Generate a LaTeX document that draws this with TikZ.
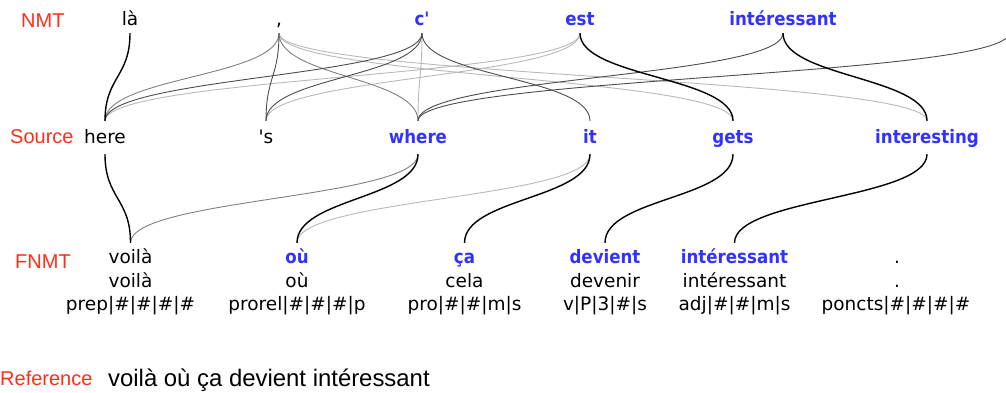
\documentclass[tikz,border=0pt]{standalone}
\usepackage{fontspec}
\setmainfont{DejaVu Sans}
\newfontfamily\labelfont{Liberation Sans}
\newfontfamily\boldcond{DejaVu Sans Condensed Bold}
\definecolor{lblred}{RGB}{255,45,25}
\definecolor{wordblue}{RGB}{50,50,255}

\tikzset{
  every node/.style={inner sep=0pt, anchor=base},
  word/.style={font=\fontsize{18.5}{22}\selectfont},
  hi/.style={font=\boldcond\fontsize{18.5}{22}\selectfont, text=wordblue},
  nmt/.style={text depth=8pt},
  src/.style={text height=22pt, text depth=11pt},
  fn/.style={text height=20pt},
  tag/.style={font=\labelfont\fontsize{20}{24}\selectfont, text=lblred, anchor=base west},
  strong/.style={draw=black, line width=1.4pt},
  dark/.style={draw=black!70, line width=0.9pt},
  mid/.style={draw=black!50, line width=0.9pt},
  faint/.style={draw=black!28, line width=0.9pt},
}

% vertical-tangent links between rows
\newcommand\toplink[3]{\draw[#1] (#2) .. controls +(0,44) and +(0,-44) .. (#3.north);}
\newcommand\botlink[3]{\draw[#1] (#2.south) .. controls +(0,44.5) and +(0,-44.5) .. (#3.north);}

\begin{document}
\begin{tikzpicture}[x=1pt,y=-1pt]
\useasboundingbox (0,0) rectangle (1006,392);
\clip (0,0) rectangle (1006,392);

% row labels
\node[tag] (lbl-nmt) at (21,27) {NMT};
\node[tag] (lbl-src) at (10,143) {Source};
\node[tag] (lbl-fnmt) at (15,268) {FNMT};
\node[tag] (lbl-ref) at (0,385) {Reference};
\node[anchor=base west, font=\labelfont\fontsize{23.9}{28}\selectfont] (ref-text) at (108,386) {voilà où ça devient intéressant};

% NMT output
\node[word,nmt] (n-la) at (130,25) {là};
\node[word,nmt] (n-comma) at (279,25) {,};
\node[hi,nmt] (n-c) at (422,25) {c\textquotesingle};
\node[hi,nmt] (n-est) at (580,25) {est};
\node[hi,nmt] (n-int) at (783,25) {intéressant};
\coordinate (n-off) at (1009,33);

% source sentence
\node[word,src] (s-here) at (105,143) {here};
\node[word,src] (s-s) at (266,143) {\textquotesingle s};
\node[hi,src] (s-where) at (418,143) {where};
\node[hi,src] (s-it) at (590,143) {it};
\node[hi,src] (s-gets) at (733,143) {gets};
\node[hi,src] (s-interesting) at (927,143) {interesting};

% FNMT output: surface form, lemma, factors
\node[word,fn] (f-voila) at (130.5,263) {voilà};
\node[hi,fn] (f-ou) at (297,263) {où};
\node[hi,fn] (f-ca) at (464.5,263) {ça};
\node[hi,fn] (f-devient) at (605,263) {devient};
\node[hi,fn] (f-int) at (734.5,263) {intéressant};
\node[word,fn] (f-dot) at (897,263) {.};

\node[word] (l-voila) at (130.5,287) {voilà};
\node[word] (l-ou) at (297,287) {où};
\node[word] (l-ca) at (464.5,287) {cela};
\node[word] (l-devient) at (605,287) {devenir};
\node[word] (l-int) at (734.5,287) {intéressant};
\node[word] (l-dot) at (897,287) {.};

\node[word] (t-voila) at (130.5,310) {prep|\#|\#|\#|\#};
\node[word] (t-ou) at (297,310) {prorel|\#|\#|\#|p};
\node[word] (t-ca) at (464.5,310) {pro|\#|\#|m|s};
\node[word] (t-devient) at (605,310) {v|P|3|\#|s};
\node[word] (t-int) at (734.5,310) {adj|\#|\#|m|s};
\node[word] (t-dot) at (896,310) {poncts|\#|\#|\#|\#};

% NMT attention links
\toplink{faint}{n-comma.south}{s-gets}
\toplink{faint}{n-comma.south}{s-interesting}
\toplink{faint}{n-c.south}{s-where}
\toplink{faint}{n-est.south}{s-here}
\toplink{faint}{n-est.south}{s-s}
\toplink{mid}{n-comma.south}{s-here}
\toplink{mid}{n-comma.south}{s-where}
\toplink{dark}{n-comma.south}{s-s}
\toplink{dark}{n-c.south}{s-here}
\toplink{dark}{n-c.south}{s-s}
\toplink{dark}{n-c.south}{s-it}
\toplink{dark}{n-int.south}{s-where}
\toplink{dark}{n-off}{s-where}
\toplink{strong}{n-la.south}{s-here}
\toplink{strong}{n-est.south}{s-gets}
\toplink{strong}{n-int.south}{s-interesting}

% FNMT attention links
\botlink{faint}{s-it}{f-ou}
\botlink{mid}{s-where}{f-voila}
\botlink{strong}{s-here}{f-voila}
\botlink{strong}{s-where}{f-ou}
\botlink{strong}{s-it}{f-ca}
\botlink{strong}{s-gets}{f-devient}
\botlink{strong}{s-interesting}{f-int}
\end{tikzpicture}
\end{document}
